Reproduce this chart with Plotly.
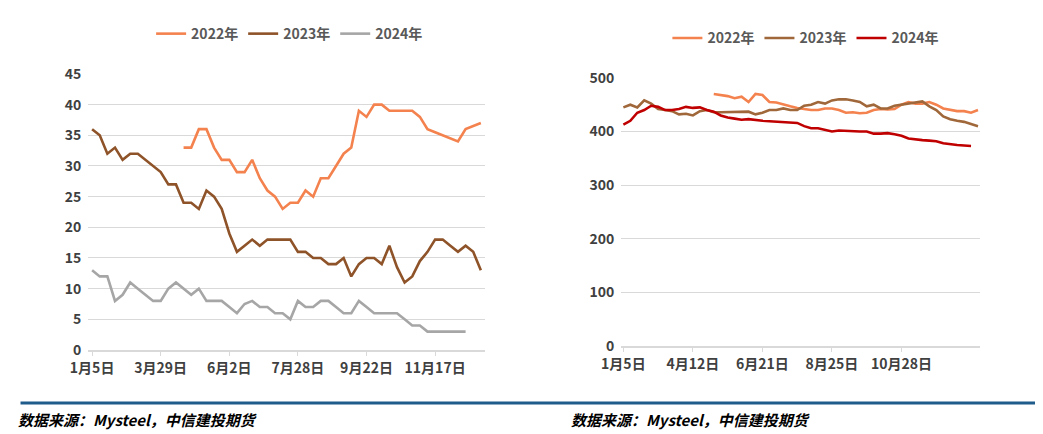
import plotly.graph_objects as go

# left chart (weekly, 52 weeks)
left_ticks = ["1月5日", "3月29日", "6月2日", "7月28日", "9月22日", "11月17日"]
left_2022 = [33, 33, 36, 36, 33, 31, 31, 29, 29, 31, 28, 26, 25, 23, 24, 24, 26, 25, 28, 28,
             30, 32, 33, 39, 38, 40, 40, 39, 39, 39, 39, 38, 36, 35.5, 35, 34.5, 34, 36, 36.5, 37]
left_2023 = [36, 35, 32, 33, 31, 32, 32, 31, 30, 29, 27, 27, 24, 24, 23, 26, 25, 23, 19, 16,
             17, 18, 17, 18, 18, 18, 18, 16, 16, 15, 15, 14, 14, 15, 12, 14, 15, 15, 14, 17,
             13.5, 11, 12, 14.5, 16, 18, 18, 17, 16, 17, 16, 13]
left_2024 = [13, 12, 12, 8, 9, 11, 10, 9, 8, 8, 10, 11, 10, 9, 10, 8, 8, 8, 7, 6,
             7.5, 8, 7, 7, 6, 6, 5, 8, 7, 7, 8, 8, 7, 6, 6, 8, 7, 6, 6, 6,
             6, 5, 4, 4, 3, 3, 3, 3, 3, 3]

# right chart
right_ticks = ["1月5日", "4月12日", "6月21日", "8月25日", "10月28日"]
right_2022 = [470, 468, 466, 462, 465, 455, 470, 468, 455, 454, 450, 447, 444, 442, 440, 440,
              443, 443, 440, 435, 436, 434, 435, 440, 442, 441, 442, 450, 455, 452, 452, 455,
              450, 443, 440, 438, 438, 435, 440]
right_2023 = [445, 450, 445, 458, 452, 442, 440, 438, 432, 433, 430, 438, 440, 436, 436, 436,
              437, 436, 437, 432, 435, 440, 440, 443, 440, 440, 448, 450, 455, 452, 458, 460,
              460, 458, 455, 447, 450, 443, 443, 448, 450, 452, 455, 456, 447, 440, 428, 423,
              420, 418, 414, 410]
right_2024 = [413, 420, 435, 440, 448, 446, 440, 440, 442, 446, 444, 445, 440, 437, 430, 426,
              424, 422, 423, 421, 420, 419, 418, 417, 416, 416, 410, 406, 406, 403, 400, 402,
              401, 401, 400, 400, 396, 396, 397, 395, 392, 387, 385, 384, 383, 382, 378, 376,
              375, 374, 373]

FONT = "Noto Sans CJK SC"
ORANGE = "#F4824E"
BROWN = "#8E5328"
BROWN2 = "#A0683A"
GREY = "#A6A6A6"
RED = "#C00000"

fig = go.Figure()


def add(x0, vals, name, color, xa, ya, legend):
    fig.add_trace(go.Scatter(
        x=list(range(x0, x0 + len(vals))), y=vals, name=name, mode="lines",
        line=dict(color=color, width=2.6), xaxis=xa, yaxis=ya, legend=legend
    ))


add(12, left_2022, "2022年", ORANGE, "x", "y", "legend")
add(0, left_2023, "2023年", BROWN, "x", "y", "legend")
add(0, left_2024, "2024年", GREY, "x", "y", "legend")
add(13, right_2022, "2022年", ORANGE, "x2", "y2", "legend2")
add(0, right_2023, "2023年", BROWN2, "x2", "y2", "legend2")
add(0, right_2024, "2024年", RED, "x2", "y2", "legend2")

tickfont = dict(family=FONT, size=14, color="#404040", weight="bold")
common_x = dict(showgrid=False, showline=True, linecolor="#D9D9D9", linewidth=1.5,
                ticks="outside", ticklen=4, tickcolor="#D9D9D9", tickfont=tickfont,
                zeroline=False, automargin=False)
common_y = dict(showgrid=True, gridcolor="#D9D9D9", gridwidth=1.2, showline=False,
                zeroline=False, tickfont=tickfont, automargin=False, ticklabelstandoff=6)

legend_style = dict(orientation="h",
                    font=dict(family=FONT, size=14, color="#595959", weight="bold"),
                    bgcolor="rgba(0,0,0,0)", xanchor="center", yanchor="middle")

fig.update_layout(
    width=1043, height=434,
    margin=dict(l=0, r=0, t=0, b=0),
    paper_bgcolor="white", plot_bgcolor="white",
    xaxis=dict(domain=[0.077, 0.457], range=[-0.5, 51.5],
               tickvals=[0, 9, 18, 27, 36, 45], ticktext=left_ticks, **common_x),
    yaxis=dict(domain=[0.212, 0.848], range=[0, 45], dtick=5, anchor="x", **common_y),
    xaxis2=dict(domain=[0.588, 0.932], range=[-0.3, 51.3], anchor="y2",
                tickvals=[0, 10, 20, 30, 40], ticktext=right_ticks, **common_x),
    yaxis2=dict(domain=[0.221, 0.839], range=[0, 500], dtick=100, anchor="x2", **common_y),
    legend=dict(x=0.27, y=0.94, **legend_style),
    legend2=dict(x=0.765, y=0.93, **legend_style),
)

# divider and source notes
fig.add_shape(type="line", xref="paper", yref="paper", x0=0.012, x1=1, y0=0.09, y1=0.09,
              line=dict(color="#1F5C8B", width=3))
for xpos in [0.008, 0.538]:
    fig.add_annotation(
        xref="paper", yref="paper", x=xpos, y=0.052, xanchor="left", yanchor="middle",
        text="<b><i>数据来源：Mysteel，中信建投期货</i></b>", showarrow=False,
        font=dict(family=FONT, size=15, color="#000000")
    )

fig.write_html("out.html")
